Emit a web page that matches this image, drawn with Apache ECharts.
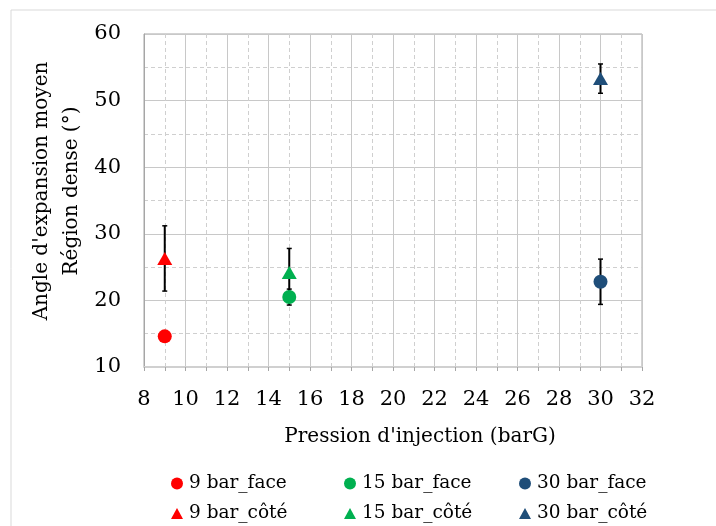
<!DOCTYPE html>
<html>
<head>
<meta charset="utf-8">
<script src="https://cdn.jsdelivr.net/npm/echarts@6/dist/echarts.min.js"></script>
<style>
html,body{margin:0;padding:0;background:#fff;}
#chart{width:716px;height:526px;}
</style>
</head>
<body>
<div id="chart"></div>
<script>
// ---- data ----
const pressions = [9, 15, 30];
const seriesNames = ['9 bar_face', '15 bar_face', '30 bar_face', '9 bar_côté', '15 bar_côté', '30 bar_côté'];
const faceMoy = [14.6, 20.5, 22.8];
const faceErr = [0, 1.2, 3.4];
const coteMoy = [26.3, 24.2, 53.3];
const coteErr = [4.9, 3.6, 2.2];
const colors = ['#FF0000', '#00B050', '#1F4E79'];
const xTicks = [8, 32, 2];
const yTicks = [10, 60, 10];
const xTitle = "Pression d'injection (barG)";
const yTitle1 = "Angle d'expansion moyen";
const yTitle2 = "Région dense (°)";

const FONT = '"DejaVu Serif", serif';
const chart = echarts.init(document.getElementById('chart'));

const series = [];
const errData = [];
for (let i = 0; i < 3; i++) {
  if (faceErr[i] > 0) errData.push([pressions[i], faceMoy[i] - faceErr[i], faceMoy[i] + faceErr[i]]);
  if (coteErr[i] > 0) errData.push([pressions[i], coteMoy[i] - coteErr[i], coteMoy[i] + coteErr[i]]);
}
series.push({
  type: 'custom',
  name: 'err',
  z: 1,
  silent: true,
  data: errData,
  encode: {x: 0, y: [1, 2]},
  renderItem: function (params, api) {
    const lo = api.coord([api.value(0), api.value(1)]);
    const hi = api.coord([api.value(0), api.value(2)]);
    const w = 2.5;
    return {
      type: 'group',
      children: [
        {type: 'line', shape: {x1: lo[0], y1: lo[1], x2: hi[0], y2: hi[1]}, style: {stroke: '#000', lineWidth: 2}},
        {type: 'line', shape: {x1: lo[0] - w, y1: lo[1], x2: lo[0] + w, y2: lo[1]}, style: {stroke: '#000', lineWidth: 1.5}},
        {type: 'line', shape: {x1: hi[0] - w, y1: hi[1], x2: hi[0] + w, y2: hi[1]}, style: {stroke: '#000', lineWidth: 1.5}}
      ]
    };
  }
});
for (let i = 0; i < 3; i++) {
  series.push({
    type: 'scatter', name: seriesNames[i], z: 3,
    symbol: 'circle', symbolSize: 14,
    itemStyle: {color: colors[i], opacity: 1},
    data: [[pressions[i], faceMoy[i]]]
  });
}
for (let i = 0; i < 3; i++) {
  series.push({
    type: 'scatter', name: seriesNames[3 + i], z: 3,
    symbol: 'triangle', symbolSize: [15, 13],
    itemStyle: {color: colors[i], opacity: 1},
    data: [[pressions[i], coteMoy[i]]]
  });
}

const legendPos = [[171, 474], [344, 474], [519, 474], [171, 504], [344, 504], [519, 504]];
const legends = seriesNames.map((n, k) => ({
  data: [{name: n, icon: k < 3 ? 'circle' : 'triangle'}],
  left: legendPos[k][0], top: legendPos[k][1],
  padding: 0,
  itemWidth: 12, itemHeight: k < 3 ? 12 : 11,
  textStyle: {fontFamily: FONT, fontSize: 18.5, color: '#000', padding: [0, 0, 0, 1]},
  selectedMode: false
}));

chart.setOption({
  animation: false,
  textStyle: {fontFamily: FONT},
  grid: {left: 144, top: 34, right: 74, bottom: 159, show: true, borderColor: '#a6a6a6', borderWidth: 1},
  xAxis: {
    type: 'value', min: xTicks[0], max: xTicks[1], interval: xTicks[2],
    axisLine: {show: true, lineStyle: {color: '#d0d0d0', width: 2}},
    axisTick: {show: true, length: 4, lineStyle: {color: '#a6a6a6'}},
    minorTick: {show: true, splitNumber: 2, length: 4, lineStyle: {color: '#a6a6a6'}},
    axisLabel: {fontFamily: FONT, fontSize: 21, color: '#000', margin: 22},
    splitLine: {show: true, lineStyle: {color: '#c8c8c8', width: 1}},
    minorSplitLine: {show: true, lineStyle: {color: '#cfcfcf', type: [4, 3], width: 1}}
  },
  yAxis: {
    type: 'value', min: yTicks[0], max: yTicks[1], interval: yTicks[2],
    axisLine: {show: true, lineStyle: {color: '#a6a6a6', width: 1}},
    axisTick: {show: false},
    minorTick: {show: false, splitNumber: 2},
    axisLabel: {fontFamily: FONT, fontSize: 21, color: '#000', margin: 23},
    splitLine: {show: true, lineStyle: {color: '#c8c8c8', width: 1}},
    minorSplitLine: {show: true, lineStyle: {color: '#cfcfcf', type: [4, 3], width: 1}}
  },
  legend: legends,
  graphic: [
    {type: 'rect', silent: true, z: -10, shape: {x: 11, y: 10, width: 800, height: 600}, style: {fill: 'none', stroke: '#d9d9d9', lineWidth: 1}},
    {type: 'text', x: 420, y: 437, style: {text: xTitle, font: '20px ' + FONT, fill: '#000', textAlign: 'center', textVerticalAlign: 'middle'}},
    {type: 'text', x: 42, y: 191, rotation: Math.PI / 2, style: {text: yTitle1, font: '20px ' + FONT, fill: '#000', textAlign: 'center', textVerticalAlign: 'middle'}},
    {type: 'text', x: 72, y: 191, rotation: Math.PI / 2, style: {text: yTitle2, font: '20px ' + FONT, fill: '#000', textAlign: 'center', textVerticalAlign: 'middle'}}
  ],
  series: series
});
</script>
</body>
</html>
